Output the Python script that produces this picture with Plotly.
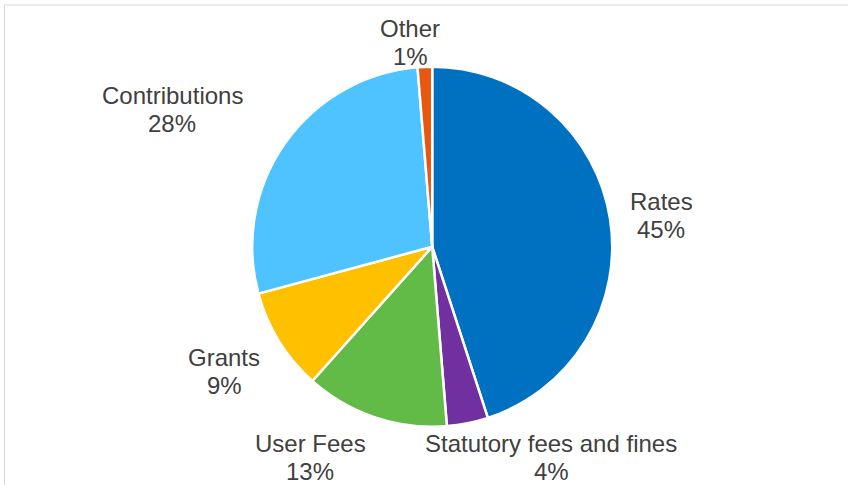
import plotly.graph_objects as go

# Data (clockwise from 12 o'clock)
categories = ["Rates", "Statutory fees and fines", "User Fees", "Grants", "Contributions", "Other"]
values = [45.0, 3.7, 12.9, 9.2, 27.9, 1.3]
colors = ["#0070C0", "#7030A0", "#62BB47", "#FFC000", "#4FC3FF", "#E8570E"]

# Label block centres in pixels (manual layout, as in the original)
label_px = [(661, 215), (551, 457), (310, 457), (224, 371), (172, 110), (410, 42)]

W, H = 848, 485
cx, cy, r = 432.2, 246.7, 180.0
LINE = 28  # line spacing, px

fig = go.Figure()
fig.add_trace(go.Pie(
    labels=categories,
    values=values,
    sort=False,
    direction="clockwise",
    rotation=0,
    marker=dict(colors=colors, line=dict(color="white", width=2.5)),
    textinfo="none",
    hoverinfo="label+percent",
    showlegend=False,
    domain=dict(x=[(cx - r) / W, (cx + r) / W], y=[1 - (cy + r) / H, 1 - (cy - r) / H]),
))

total = sum(values)
font = dict(family="Liberation Sans, Arial, sans-serif", size=24, color="#404040")
annotations = []
for cat, v, (px, py) in zip(categories, values, label_px):
    for txt, dy in ((cat, -LINE / 2), (f"{round(100 * v / total)}%", LINE / 2)):
        annotations.append(dict(
            x=px / W, y=1 - (py + dy) / H, xref="paper", yref="paper",
            text=txt, showarrow=False, xanchor="center", yanchor="middle",
            align="center", font=font,
        ))

fig.update_layout(
    width=W, height=H,
    margin=dict(l=0, r=0, t=0, b=0),
    paper_bgcolor="white",
    plot_bgcolor="white",
    annotations=annotations,
    shapes=[dict(type="rect", xref="paper", yref="paper",
                 x0=4.5 / W, x1=1.2, y0=-0.2, y1=1 - 5 / H,
                 line=dict(color="#D9D9D9", width=1), fillcolor="rgba(0,0,0,0)")],
)

fig.write_html(
    "out.html",
    config={"displayModeBar": False},
    post_script="document.body.style.margin='0';document.body.style.overflow='hidden';",
)
